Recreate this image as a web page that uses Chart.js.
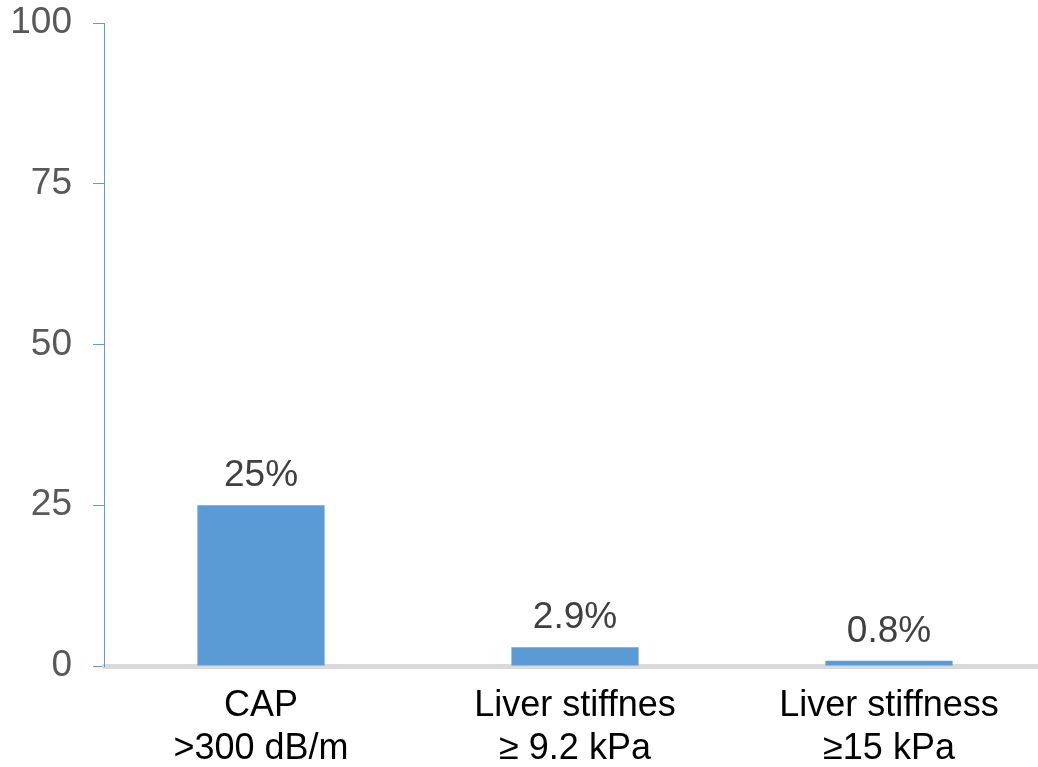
<!DOCTYPE html>
<html>
<head>
<meta charset="utf-8">
<script src="https://cdn.jsdelivr.net/npm/chart.js@4.4.1/dist/chart.umd.min.js"></script>
<style>
  html, body { margin: 0; padding: 0; background: #fff; overflow: hidden; }
  #wrap { width: 1046px; height: 767px; }
</style>
</head>
<body>
<div id="wrap"><canvas id="c" width="1046" height="767"></canvas></div>
<script>
const categories = [
  ['CAP', '>300 dB/m'],
  ['Liver stiffnes', '\u2265 9.2 kPa'],
  ['Liver stiffness', '\u226515 kPa']
];
const percentValues = [25, 2.9, 0.8];
const yTicks = [0, 25, 50, 75, 100];

const FONT = '"Liberation Sans", Arial, sans-serif';
const BLUE = '#5b9bd5';

// Writes each bar's value above it
const valueLabels = {
  id: 'valueLabels',
  afterDatasetsDraw(chart) {
    const ctx = chart.ctx;
    const meta = chart.getDatasetMeta(0);
    ctx.save();
    ctx.font = '37px ' + FONT;
    ctx.fillStyle = '#404040';
    ctx.textAlign = 'center';
    ctx.textBaseline = 'alphabetic';
    meta.data.forEach((bar, i) => {
      ctx.fillText(percentValues[i] + '%', bar.x, bar.y - 19);
    });
    ctx.restore();
  }
};

new Chart(document.getElementById('c'), {
  type: 'bar',
  data: {
    labels: categories,
    datasets: [{
      data: percentValues,
      backgroundColor: BLUE,
      borderWidth: 0,
      categoryPercentage: 1,
      barPercentage: 0.405
    }]
  },
  options: {
    responsive: false,
    animation: false,
    devicePixelRatio: 1,
    layout: { padding: { top: 23, left: 0, right: 0, bottom: 0 } },
    plugins: { legend: { display: false }, tooltip: { enabled: false } },
    scales: {
      x: {
        grid: { display: false, drawTicks: false },
        border: { display: true, color: '#d9d9d9', width: 5 },
        ticks: {
          color: '#000000',
          font: { family: FONT, size: 36, lineHeight: 1.2 },
          padding: 18,
          maxRotation: 0,
          autoSkip: false
        },
        afterFit(scale) {
          scale.height = 101;
          scale.paddingLeft = 0;
          scale.paddingRight = 0;
        }
      },
      y: {
        min: 0,
        max: 100,
        afterBuildTicks(scale) { scale.ticks = yTicks.map(v => ({ value: v })); },
        grid: { drawOnChartArea: false, drawTicks: true, tickLength: 11, color: BLUE, lineWidth: 1 },
        border: { display: true, color: BLUE, width: 1 },
        ticks: {
          color: '#595959',
          font: { family: FONT, size: 37 },
          padding: 21
        },
        afterFit(scale) {
          scale.width = 104;
          scale.paddingTop = 0;
          scale.paddingBottom = 0;
        }
      }
    }
  },
  plugins: [valueLabels]
});
</script>
</body>
</html>
